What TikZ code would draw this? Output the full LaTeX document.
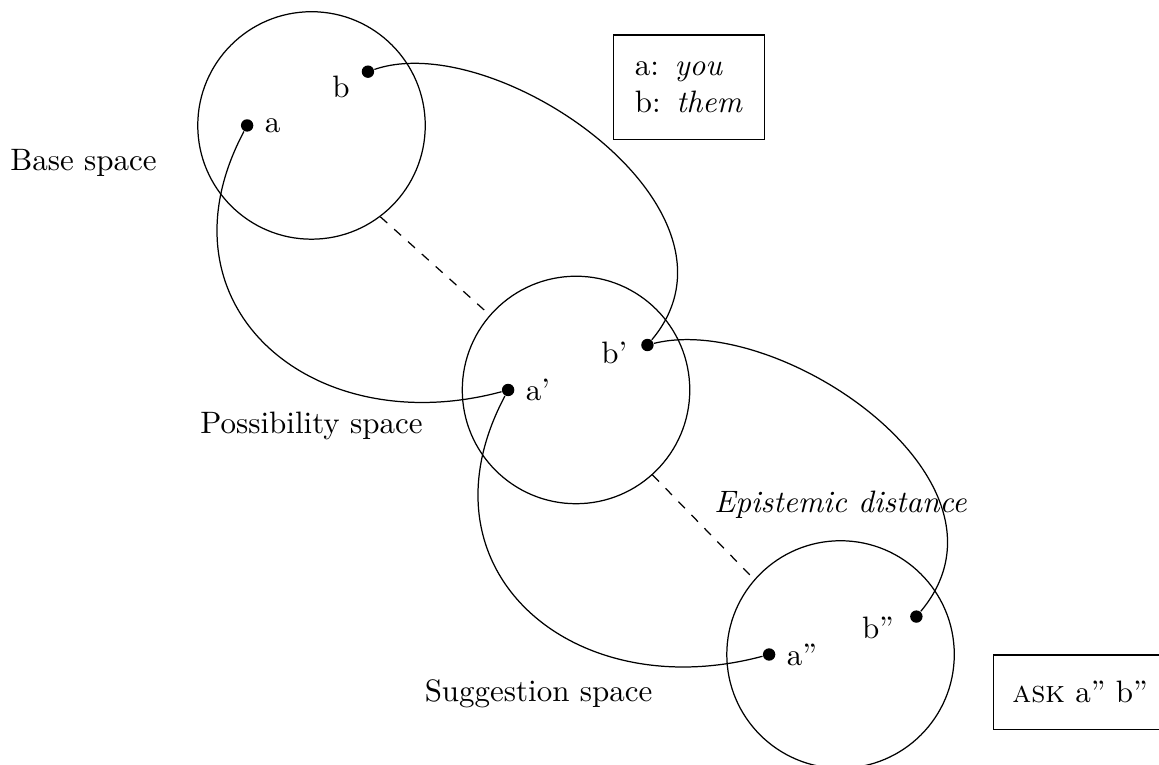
\documentclass[tikz,border=0pt]{standalone}
\usepackage{tikz}

\begin{document}
\begin{tikzpicture}[
  space/.style={draw,circle,minimum size=2.58cm,inner sep=0pt},
  dot/.style={circle,fill,inner sep=0pt,minimum size=4pt},
  infobox/.style={draw,align=left}]
\useasboundingbox (-3.533,-7.253) rectangle (9.612,1.423);
% the three spaces
\node[space] (sp0) at (0,0) {};
\node[space] (sp1) at (3,-3) {};
\node[space] (sp2) at (6,-6) {};
\node (t0) at (-2.586,-0.43) {Base space};
\node (t1) at (0,-3.41) {Possibility space};
\node (t2) at (2.575,-6.44) {Suggestion space};
\node (dist) at (6,-4.3) {\textit{Epistemic distance}};
% counterparts
\node[dot,label=right:a] (a0) at (-0.73,0) {};
\node[dot,label={[anchor=center,label distance=7.7pt]209:b}] (b0) at (0.64,0.61) {};
\node[dot,label=right:a'] (a1) at (2.23,-3) {};
\node[dot,label={[anchor=center,label distance=8.8pt]193:b'}] (b1) at (3.81,-2.49) {};
\node[dot,label=right:a''] (a2) at (5.19,-6) {};
\node[dot,label={[anchor=center,label distance=10.7pt]196:b''}] (b2) at (6.86,-5.57) {};
\draw (a0) .. controls +(-118:2.31) and +(195:2.31) .. (a1);
\draw (a1) .. controls +(-118:2.31) and +(195:2.31) .. (a2);
\draw (b0) .. controls +(19:1.54) and +(50:2.0) .. (b1);
\draw (b1) .. controls +(14:1.54) and +(50:2.0) .. (b2);
\draw[dashed] (sp0.-53) -- (sp1.139);
\draw[dashed] (sp1.-48) -- (sp2.139);
% keys
\node[infobox,inner xsep=7pt,minimum height=1.18cm] (key) at (4.28,0.435)
  {a:\enspace\textit{you}\\ b:\enspace\textit{them}};
\node[infobox,minimum width=1.96cm,minimum height=0.85cm] (ask) at (8.716,-6.43)
  {\textsc{ask} a'' b''};
\end{tikzpicture}
\end{document}
